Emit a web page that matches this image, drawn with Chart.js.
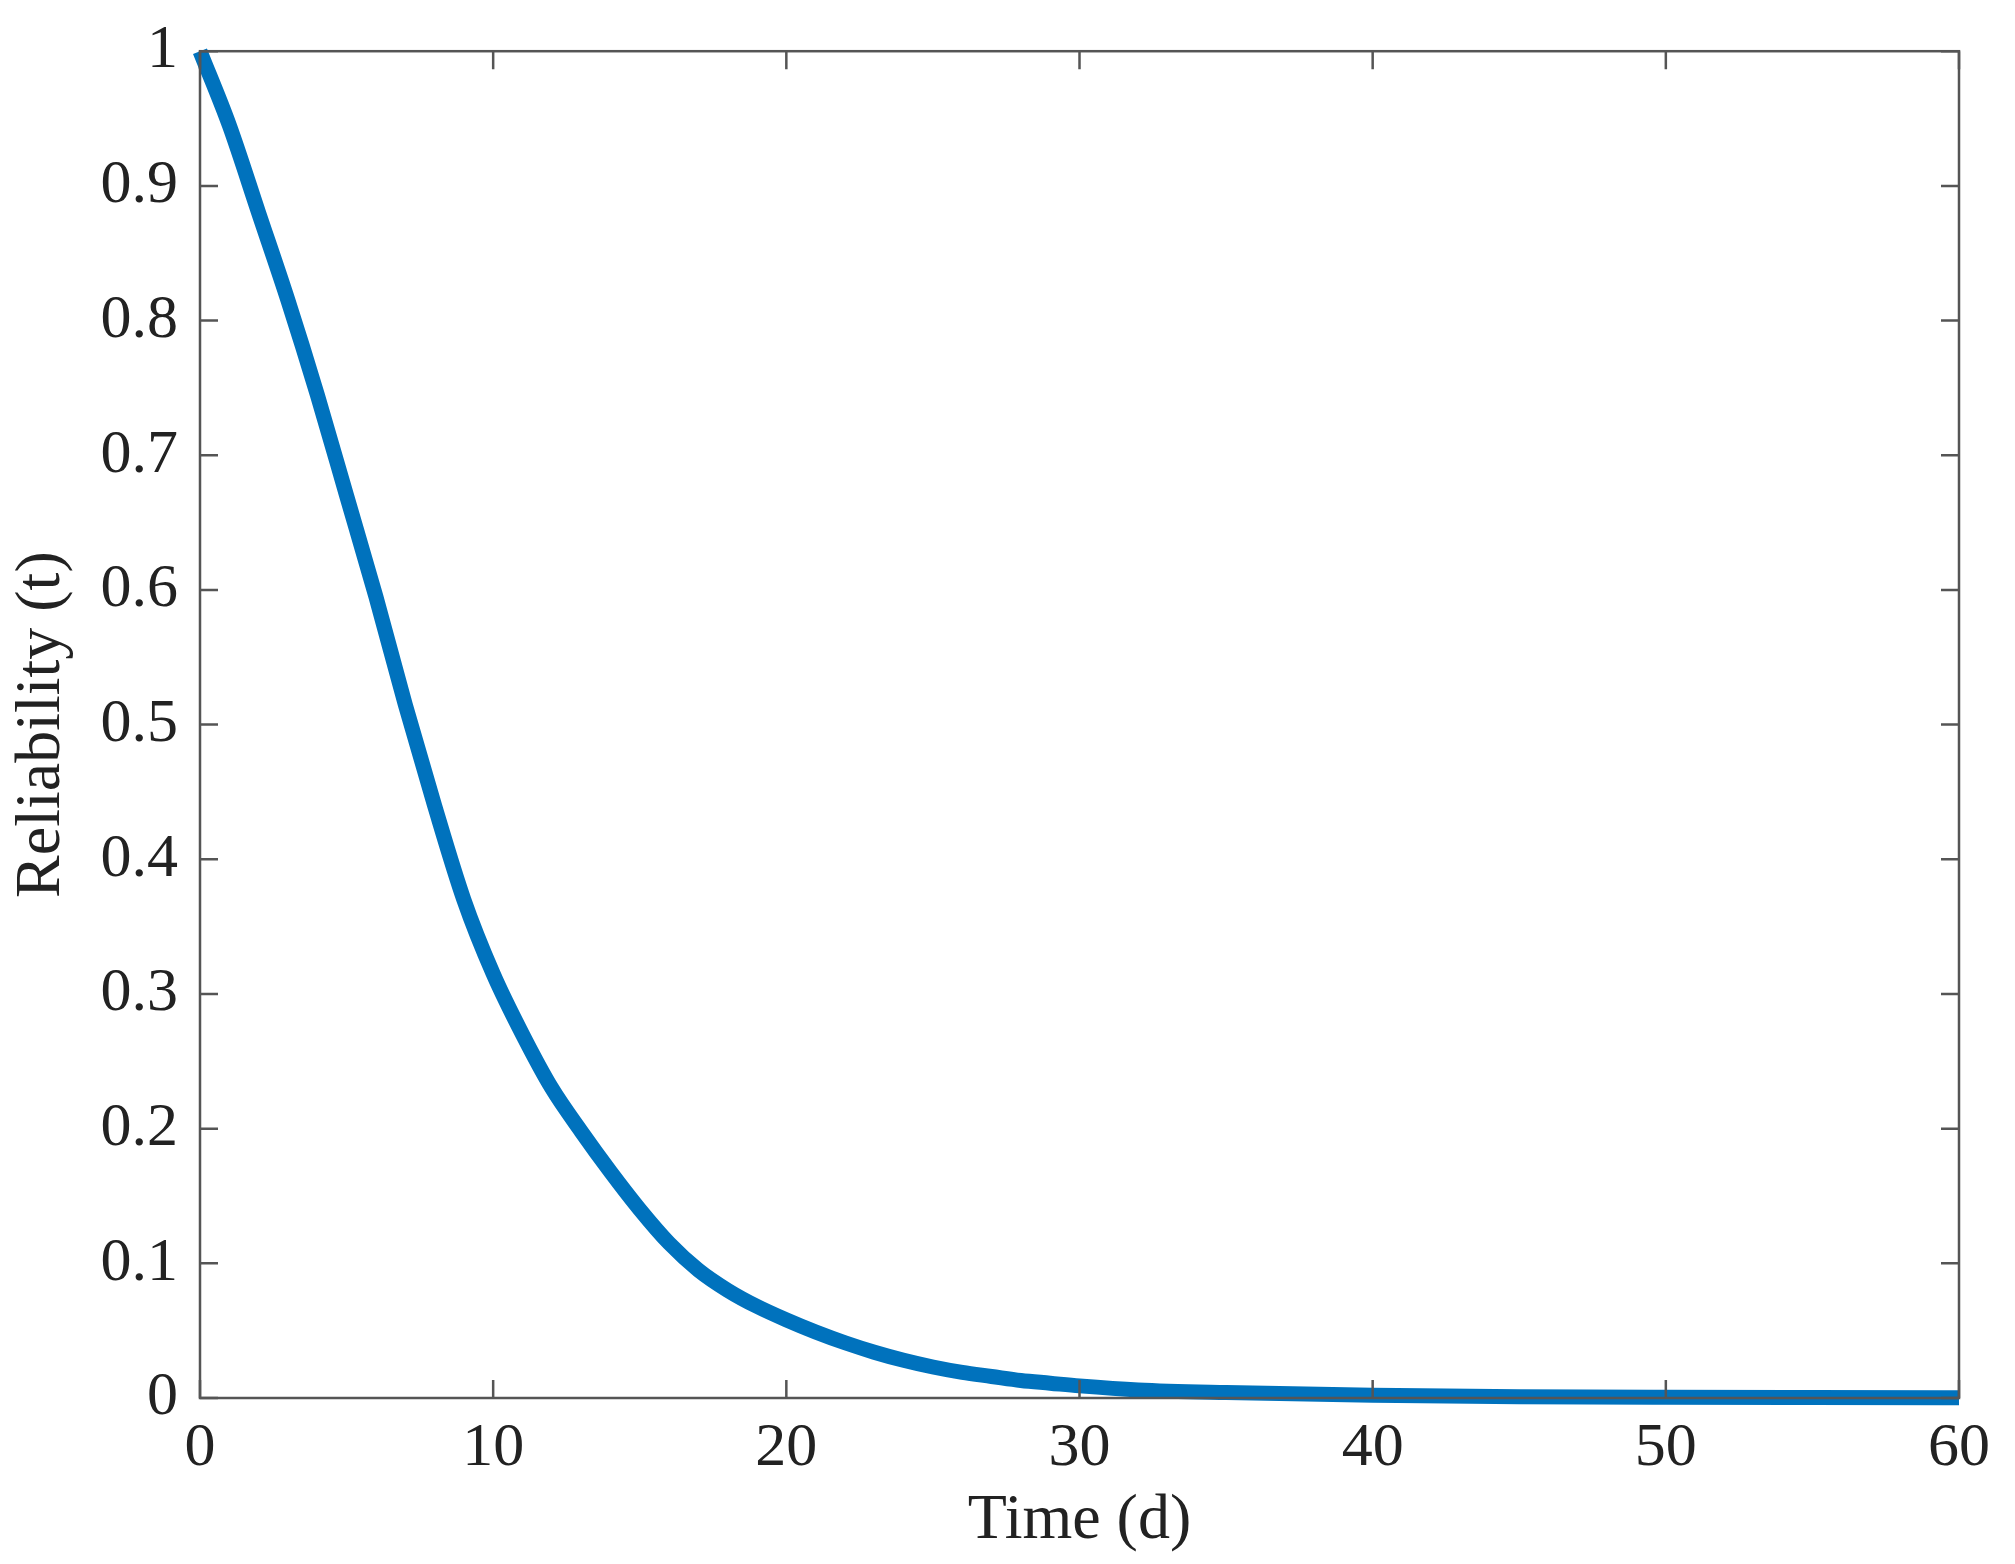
<!DOCTYPE html>
<html><head><meta charset="utf-8">
<script src="https://cdn.jsdelivr.net/npm/chart.js@4/dist/chart.umd.min.js"></script>
<style>html,body{margin:0;padding:0;background:#fff}#w{width:2015px;height:1564px}</style>
</head><body><div id="w"><canvas id="c"></canvas></div>
<script>
const timeDays = [0,1,2,3,4,5,6,7,8,9,10,11,12,13,14,15,16,17,18,19,20,21,22,23,24,25,26,27,28,29,30,32,35,40,45,50,55,60];
const reliability = [1.0,0.945,0.88,0.815,0.745,0.67,0.595,0.515,0.44,0.37,0.315,0.27,0.23,0.198,0.168,0.14,0.115,0.095,0.08,0.068,0.058,0.049,0.041,0.034,0.028,0.023,0.019,0.016,0.013,0.011,0.009,0.006,0.004,0.002,0.001,0.0005,0.0003,0.0002];
const xTicks = [0,10,20,30,40,50,60];
const yTicks = [0,0.1,0.2,0.3,0.4,0.5,0.6,0.7,0.8,0.9,1];
const FONT = "'Liberation Serif', 'Times New Roman', serif";
const boxPlugin = {
  id:'box',
  afterDraw(ch){
    const {ctx, chartArea:a, scales:{x,y}} = ch;
    ctx.save(); ctx.strokeStyle='#555'; ctx.lineWidth=2.5;
    ctx.strokeRect(a.left,a.top,a.right-a.left,a.bottom-a.top);
    const L=18;
    ctx.beginPath();
    xTicks.forEach(v=>{const p=x.getPixelForValue(v);ctx.moveTo(p,a.bottom);ctx.lineTo(p,a.bottom-L);ctx.moveTo(p,a.top);ctx.lineTo(p,a.top+L);});
    yTicks.forEach(v=>{const p=y.getPixelForValue(v);ctx.moveTo(a.left,p);ctx.lineTo(a.left+L,p);ctx.moveTo(a.right,p);ctx.lineTo(a.right-L,p);});
    ctx.stroke(); ctx.restore();
  }
};
new Chart(document.getElementById('c'),{
  type:'line',
  data:{datasets:[{data:timeDays.map((t,i)=>({x:t,y:reliability[i]})),borderColor:'#0072BD',borderWidth:15,pointRadius:0,cubicInterpolationMode:'monotone',clip:false}]},
  options:{
    responsive:true,maintainAspectRatio:false,animation:false,devicePixelRatio:1,
    layout:{padding:{top:40,right:56,left:0,bottom:0}},
    plugins:{legend:{display:false},tooltip:{enabled:false}},
    scales:{
      x:{type:'linear',min:0,max:60,afterBuildTicks:s=>{s.ticks=xTicks.map(v=>({value:v}));},
        grid:{display:false},border:{display:false},
        ticks:{font:{family:FONT,size:62},color:'#222',padding:6,maxRotation:0},
        title:{display:true,text:'Time (d)',font:{family:FONT,size:64},color:'#222',padding:{top:-40}},
        afterFit:s=>{s.height=166;}},
      y:{type:'linear',min:0,max:1,afterBuildTicks:s=>{s.ticks=yTicks.map(v=>({value:v}));},
        grid:{display:false},border:{display:false},
        ticks:{font:{family:FONT,size:62},color:'#222',padding:14,callback:v=>String(v)},
        title:{display:true,text:'Reliability (t)',font:{family:FONT,size:64},color:'#222',padding:{bottom:-4}},
        afterFit:s=>{s.width=200;}}
    }
  },
  plugins:[boxPlugin]
});
</script></body></html>
